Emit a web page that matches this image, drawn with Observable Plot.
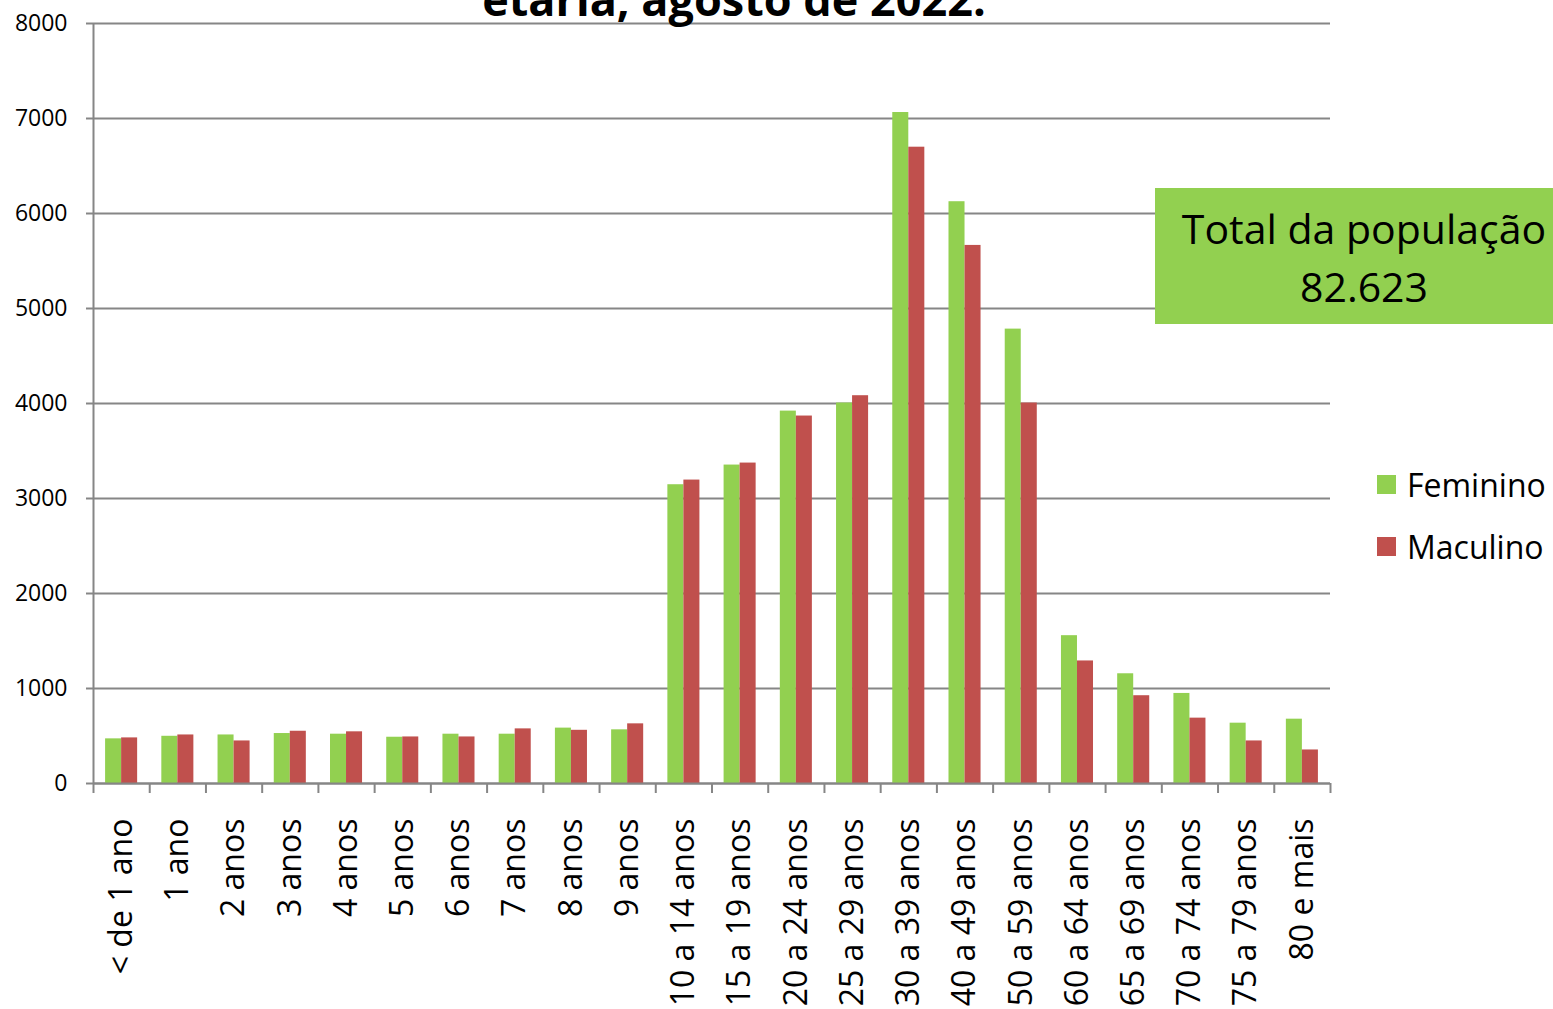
<!DOCTYPE html>
<html>
<head>
<meta charset="utf-8">
<script src="https://cdn.jsdelivr.net/npm/d3@7"></script>
<script src="https://cdn.jsdelivr.net/npm/@observablehq/plot@0.6"></script>
<style>
  html, body { margin: 0; padding: 0; background: #fff; }
  #wrap { position: relative; width: 1553px; height: 1009px; overflow: hidden; font-family: "Open Sans", sans-serif; color: #000; }
  #title { position: absolute; left: 0; width: 1468px; top: -24px; text-align: center; font-size: 45px; line-height: 45px; font-weight: 700; white-space: nowrap; }
  #total { position: absolute; left: 1155px; top: 188px; width: 418px; height: 136px; background: #92D050; text-align: center; font-size: 41px; line-height: 58px; padding-top: 11px; box-sizing: border-box; }
  .leg { position: absolute; left: 1377px; font-size: 32px; line-height: 32px; white-space: nowrap; }
  .leg span.sw { position: absolute; left: 0; width: 19px; height: 19px; }
  .leg span.tx { position: absolute; left: 30px; top: 0; }
  #chart { position: absolute; left: 0; top: 0; }
</style>
</head>
<body>
<div id="wrap">
  <div id="chart"></div>
  <div id="title">etária, agosto de 2022.</div>
  <div id="total">Total da população<br>82.623</div>
  <div class="leg" style="top:469px"><span class="sw" style="top:6px;background:#92D050"></span><span class="tx">Feminino</span></div>
  <div class="leg" style="top:531px"><span class="sw" style="top:6px;background:#C0504D"></span><span class="tx">Maculino</span></div>
</div>
<script>
const categories = ["< de 1 ano", "1 ano", "2 anos", "3 anos", "4 anos", "5 anos", "6 anos", "7 anos", "8 anos", "9 anos",
  "10 a 14 anos", "15 a 19 anos", "20 a 24 anos", "25 a 29 anos", "30 a 39 anos", "40 a 49 anos", "50 a 59 anos",
  "60 a 64 anos", "65 a 69 anos", "70 a 74 anos", "75 a 79 anos", "80 e mais"];
const feminino = [470, 497, 511, 526, 519, 487, 519, 519, 583, 565, 3145, 3352, 3920, 4005, 7063, 6124, 4783, 1556, 1155, 948, 635, 677];
const masculino = [480, 511, 448, 550, 544, 490, 490, 575, 560, 628, 3194, 3373, 3868, 4082, 6698, 5664, 4005, 1290, 924, 688, 448, 353];
const yTicks = [0, 1000, 2000, 3000, 4000, 5000, 6000, 7000, 8000];

const green = "#92D050", red = "#C0504D", gray = "#868686";
const n = categories.length;
const rows = categories.map((c, i) => ({i, cat: c, f: feminino[i], m: masculino[i]}));

const chart = Plot.plot({
  width: 1553,
  height: 1009,
  marginLeft: 93,
  marginRight: 223,
  marginTop: 23,
  marginBottom: 226,
  style: {fontFamily: "Open Sans, sans-serif", color: "#000", background: "transparent"},
  x: {domain: [0, n]},
  y: {domain: [0, 8000]},
  marks: [
    Plot.ruleY(yTicks, {stroke: gray, strokeWidth: 2}),
    Plot.rectY(rows, {x1: d => d.i + 0.215, x2: d => d.i + 0.5, y: "f", fill: green}),
    Plot.rectY(rows, {x1: d => d.i + 0.5, x2: d => d.i + 0.785, y: "m", fill: red}),
    Plot.ruleX([0], {stroke: gray, strokeWidth: 2}),
    Plot.ruleY([0], {stroke: gray, strokeWidth: 2}),
    Plot.axisX(d3.range(n + 1), {tickSize: 10, tickFormat: () => "", stroke: gray, strokeWidth: 2, label: null}),
    Plot.axisX(d3.range(n).map(i => i + 0.5), {
      tickSize: 0, tickPadding: 35, tickRotate: -90, fontSize: 32, fill: "#000", label: null,
      tickFormat: v => categories[Math.round(v - 0.5)]
    }),
    Plot.axisY(yTicks, {tickSize: 7, tickPadding: 19, fontSize: 23, fill: "#000", stroke: gray, strokeWidth: 2, label: null, tickFormat: d => String(d)})
  ]
});
document.getElementById("chart").appendChild(chart);
</script>
</body>
</html>
